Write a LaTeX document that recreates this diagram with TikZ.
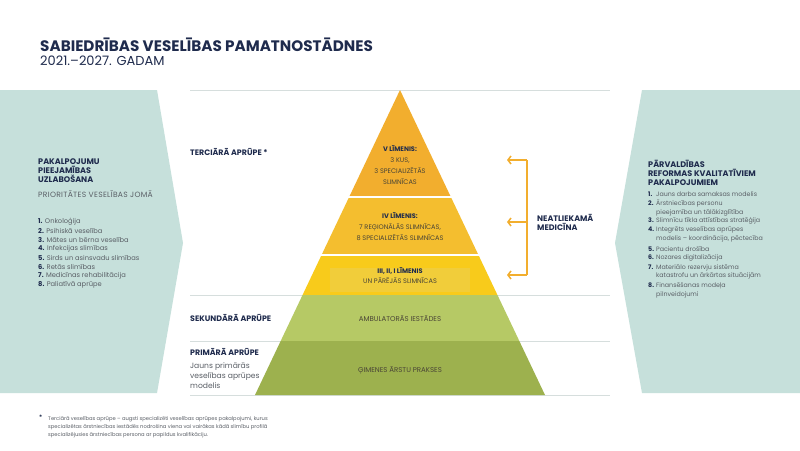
\documentclass[tikz,border=0pt]{standalone}
\usepackage{fontspec}
\setmainfont{Poppins}
\usetikzlibrary{arrows.meta,positioning}

\definecolor{navy}{HTML}{1F2B4D}
\definecolor{greytext}{HTML}{5A5F66}
\definecolor{lvltext}{HTML}{4A4536}
\definecolor{panelc}{HTML}{C6E0DB}
\definecolor{guidec}{HTML}{D6DEDD}
\definecolor{lvlV}{HTML}{F2AE2E}
\definecolor{lvlIV}{HTML}{F4BE2F}
\definecolor{lvlIII}{HTML}{F8CB1B}
\definecolor{lvlIIIin}{HTML}{F1CD3A}
\definecolor{ambul}{HTML}{B6C965}
\definecolor{prim}{HTML}{9DB14E}
\definecolor{emerg}{HTML}{F2AE2E}

\tikzset{
  panel/.style={fill=panelc},
  guide/.style={draw=guidec, line width=0.8pt},
  tierlabel/.style={anchor=west, inner sep=0pt, text=navy, font=\bfseries\fontsize{7.9}{9}\selectfont},
  headtext/.style={anchor=west, inner sep=0pt, text=navy, align=left, font=\bfseries\fontsize{8.1}{9}\selectfont},
  subtext/.style={anchor=west, inner sep=0pt, text=greytext, align=left, font=\fontsize{8.4}{9}\selectfont},
  listitem/.style={anchor=west, inner sep=0pt, text=greytext, align=left, font=\fontsize{6.3}{8.5}\selectfont},
  lvlbox/.style={inner sep=0pt, text=lvltext, align=center, font=\fontsize{6.6}{11}\selectfont},
  emline/.style={draw=emerg, line width=1.5pt},
  emarrow/.style={emline, -{Straight Barb[length=3pt,width=8pt]}},
}

\newcommand{\numb}[1]{\textcolor{navy}{\bfseries #1.}}

\begin{document}
\begin{tikzpicture}[x=1pt,y=-1pt]
  \useasboundingbox[fill=white] (0,0) rectangle (800,450);

  % Title
  \node[anchor=west, inner sep=0pt, text=navy, font=\bfseries\fontsize{15.2}{17}\selectfont] (title) at (40,45) {SABIEDRĪBAS VESELĪBAS PAMATNOSTĀDNES};
  \node[anchor=west, inner sep=0pt, text=navy, font=\fontsize{13}{15}\selectfont] (subtitle) at (40,61) {2021.–2027. GADAM};

  % Side panels
  \fill[panel] (0,90) -- (157,90) -- (183,243) -- (157,393) -- (0,393) -- cycle;
  \fill[panel] (800,90) -- (642,90) -- (615,243) -- (642,393) -- (800,393) -- cycle;

  % Guide lines
  \foreach \y in {90,295,341,395}
    \draw[guide] (190,\y) -- (610,\y);

  % Pyramid
  \foreach \yt/\yb/\col in {90/197/lvlV,197/255/lvlIV,255/295/lvlIII,295/341/ambul,341/395/prim}
    \fill[\col] ({400-0.4754*(\yt-90)},\yt) -- ({400+0.4754*(\yt-90)},\yt) -- ({400+0.4754*(\yb-90)},\yb) -- ({400-0.4754*(\yb-90)},\yb) -- cycle;
  \foreach \y in {197,255}
    \draw[white, line width=1.5pt] ({399-0.4754*(\y-90)},\y) -- ({401+0.4754*(\y-90)},\y);
  \fill[lvlIIIin] (330,268) rectangle (470,292);

  \node[lvlbox] (lvlV) at (400,165) {\textcolor{navy}{\bfseries V LĪMENIS:}\\3 KUS,\\3 SPECIALIZĒTĀS\\SLIMNĪCAS};
  \node[lvlbox] (lvlIV) at (400,227) {\textcolor{navy}{\bfseries IV LĪMENIS:}\\7 REĢIONĀLĀS SLIMNĪCAS,\\8 SPECIALIZĒTĀS SLIMNĪCAS};
  \node[lvlbox, font=\fontsize{6.6}{10}\selectfont] (lvlIII) at (400,276) {\textcolor{navy}{\bfseries III, II, I LĪMENIS}\\UN PĀRĒJĀS SLIMNĪCAS};
  \node[lvlbox, font=\fontsize{7}{9}\selectfont] (ambul) at (400,319) {AMBULATORĀS IESTĀDES};
  \node[lvlbox, font=\fontsize{7}{9}\selectfont] (prim) at (400,370) {ĢIMENES ĀRSTU PRAKSES};

  % Care levels
  \node[tierlabel] (tert) at (190,152) {TERCIĀRĀ APRŪPE *};
  \node[tierlabel] (second) at (190,318) {SEKUNDĀRĀ APRŪPE};
  \node[tierlabel] (primary) at (190,352) {PRIMĀRĀ APRŪPE};
  \node[subtext, font=\fontsize{7.6}{10}\selectfont] (primnote) at (190,376) {Jauns primārās\\veselības aprūpes\\modelis};

  % Emergency medicine
  \coordinate (bkV) at (527,160);
  \coordinate (bkIV) at (527,222);
  \coordinate (bkIII) at (527,275);
  \coordinate (tipV) at (507,160);
  \coordinate (tipIV) at (507,222);
  \coordinate (tipIII) at (507,275);
  \draw[emline] (bkV) -- (bkIII);
  \foreach \l in {V,IV,III}
    \draw[emarrow] (bk\l) -- (tip\l);
  \node[headtext, font=\bfseries\fontsize{8}{9}\selectfont] (emerg) at (537,222) {NEATLIEKAMĀ\\MEDICĪNA};

  % Left panel
  \node[headtext] (lefthead) at (38,171) {PAKALPOJUMU\\PIEEJAMĪBAS\\UZLABOŠANA};
  \node[subtext, font=\fontsize{7.6}{9}\selectfont\addfontfeatures{LetterSpace=4}] (prio) at (38,194) {PRIORITĀTES VESELĪBAS JOMĀ};
  \foreach \txt [count=\i] in {Onkoloģija, Psihiskā veselība, Mātes un bērna veselība, Infekcijas slimības, Sirds un asinsvadu slimības, Retās slimības, Medicīnas rehabilitācija, Paliatīvā aprūpe}
    \node[listitem, font=\fontsize{6.7}{8.5}\selectfont] (lp\i) at (38,{221.7+9*(\i-1)}) {\numb{\i} \txt};

  % Right panel
  \node[headtext] (righthead) at (648,173) {PĀRVALDĪBAS\\REFORMAS KVALITATĪVIEM\\PAKALPOJUMIEM};
  \foreach \y/\txt [count=\i] in {194/{Jauns darba samaksas modelis},
      208/{Ārstniecības personu\\\hspace*{8pt}pieejamība un tālākizglītība},
      221/{Slimnīcu tīkla attīstības stratēģija},
      234.5/{Integrēts veselības aprūpes\\\hspace*{8pt}modelis – koordinācija, pēctecība},
      249/{Pacientu drošība},
      258/{Nozares digitalizācija},
      272/{Materiālo rezervju sistēma\\\hspace*{8pt}katastrofu un ārkārtas situācijām},
      290.5/{Finansēšanas modeļa\\\hspace*{8pt}pilnveidojumi}}
    \node[listitem] (rp\i) at (648,\y) {\makebox[8pt][l]{\numb{\i}}\txt};

  % Footnote
  \node[anchor=north west, inner sep=0pt, text=navy, font=\bfseries\fontsize{6}{8}\selectfont] (fnmark) at (39,415) {*};
  \node[listitem, font=\fontsize{5.2}{7.8}\selectfont] (fntext) at (48,427) {Terciārā veselības aprūpe – augsti specializēti veselības aprūpes pakalpojumi, kurus\\specializētas ārstniecības iestādēs nodrošina viena vai vairākas kādā slimību profilā\\specializējusies ārstniecības persona ar papildus kvalifikāciju.};
\end{tikzpicture}
\end{document}
